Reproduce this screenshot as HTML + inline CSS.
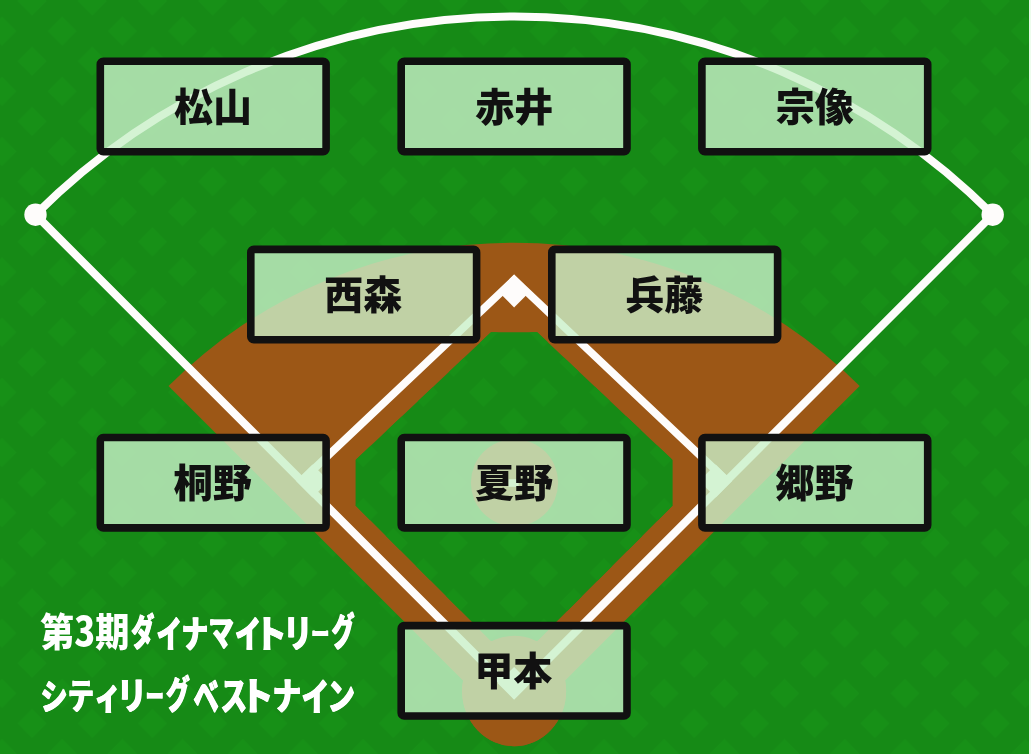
<!DOCTYPE html>
<html lang="ja"><head><meta charset="utf-8"><title>第3期ダイナマイトリーグ シティリーグベストナイン</title>
<style>
html,body{margin:0;padding:0;background:#168a16;}
body{width:1031px;height:754px;overflow:hidden;position:relative;font-family:"Liberation Sans","Noto Sans CJK JP",sans-serif;}
svg{position:absolute;left:0;top:0;display:block}
.txt{will-change:transform;position:absolute;left:0;top:0;width:1031px;height:754px;}
.nm{position:absolute;left:0;top:0;transform-origin:0 0;font-family:"Liberation Sans","Noto Sans CJK JP",sans-serif;font-weight:900;font-size:39px;line-height:39px;color:#111;white-space:nowrap;}
.cap{position:absolute;left:0;top:0;width:0;height:39px;color:#fff;font-family:"Liberation Sans","Noto Sans CJK JP",sans-serif;font-weight:900;font-size:39px;line-height:39px;white-space:nowrap;}
.cap span{display:inline-block;vertical-align:top;width:0;height:39px;font-family:"Noto Sans CJK JP",sans-serif;transform-origin:0 0;white-space:nowrap;}
.cap span.k{text-shadow:0.7px 0 0 currentColor,-0.7px 0 0 currentColor;}
</style></head><body>
<svg width="1031" height="754" viewBox="0 0 1031 754">
<defs>
<pattern id="dia" x="32.1" y="1" width="60.2" height="60.2" patternUnits="userSpaceOnUse">
<path d="M0 -14.5 L14.5 0 L0 14.5 L-14.5 0Z M60.2 -14.5 L74.7 0 L60.2 14.5 L45.7 0Z M0 45.7 L14.5 60.2 L0 74.7 L-14.5 60.2Z M60.2 45.7 L74.7 60.2 L60.2 74.7 L45.7 60.2Z M30.1 15.6 L44.6 30.1 L30.1 44.6 L15.6 30.1Z" fill="#179017"/>
</pattern>
<clipPath id="inf"><polygon points="491.0,332.3 537.2,332.3 672.6,460.0 672.6,505.6 537.2,641.0 491.0,641.0 355.6,505.6 355.6,460.0"/></clipPath>
</defs>
<rect width="1031" height="754" fill="#168a16"/>
<rect width="1031" height="754" fill="url(#dia)"/>
<path d="M514.1 731.5 L168.5 385.9 A488.7 488.7 0 0 1 859.7 385.9Z" fill="#9c5716"/>
<ellipse cx="514.1" cy="691" rx="52" ry="55.2" fill="#9c5716"/>
<polygon points="491.0,332.3 537.2,332.3 672.6,460.0 672.6,505.6 537.2,641.0 491.0,641.0 355.6,505.6 355.6,460.0" fill="#168a16"/>
<rect width="1031" height="754" fill="url(#dia)" clip-path="url(#inf)"/>
<ellipse cx="514.1" cy="691" rx="52" ry="55.2" fill="#9c5716"/>
<circle cx="514.5" cy="482.7" r="43.6" fill="#9c5716"/>
<rect x="508.6" y="479.2" width="10" height="7.6" fill="#fefcfb"/>
<g fill="none" stroke="#fefcfb" stroke-width="8">
<path d="M35.5 214.7 A676.8 676.8 0 0 1 992.7 214.7"/>
<path d="M35.5 214.7 L514.1 693.3 L992.7 214.7" stroke-linejoin="miter"/>
<path d="M301.5 480.6 L514.1 279.8 L726.7 480.6" stroke-linejoin="miter" stroke-width="7.7"/>
</g>
<g fill="#fefcfb">
<circle cx="35.5" cy="214.7" r="11.2"/>
<circle cx="992.7" cy="214.7" r="11.2"/>
<polygon points="514.1,274.6 530.5,291.0 514.1,307.4 497.7,291.0"/>
<polygon points="312.5,464.6 328.9,481.0 312.5,497.4 296.1,481.0"/>
<polygon points="715.7,464.6 732.1,481.0 715.7,497.4 699.3,481.0"/>
<polygon points="514.1,666.9 530.5,683.3 514.1,699.7 497.7,683.3"/>
</g>
<rect x="100.30" y="61.30" width="225.80" height="90.40" rx="3" fill="rgba(201,240,201,0.8)" stroke="#111" stroke-width="7.6"/>
<rect x="401.20" y="61.30" width="225.80" height="90.40" rx="3" fill="rgba(201,240,201,0.8)" stroke="#111" stroke-width="7.6"/>
<rect x="701.90" y="61.30" width="225.80" height="90.40" rx="3" fill="rgba(201,240,201,0.8)" stroke="#111" stroke-width="7.6"/>
<rect x="250.80" y="249.40" width="225.80" height="90.40" rx="3" fill="rgba(201,240,201,0.8)" stroke="#111" stroke-width="7.6"/>
<rect x="551.80" y="249.40" width="225.80" height="90.40" rx="3" fill="rgba(201,240,201,0.8)" stroke="#111" stroke-width="7.6"/>
<rect x="100.30" y="437.50" width="225.80" height="90.40" rx="3" fill="rgba(201,240,201,0.8)" stroke="#111" stroke-width="7.6"/>
<rect x="401.20" y="437.50" width="225.80" height="90.40" rx="3" fill="rgba(201,240,201,0.8)" stroke="#111" stroke-width="7.6"/>
<rect x="701.90" y="437.50" width="225.80" height="90.40" rx="3" fill="rgba(201,240,201,0.8)" stroke="#111" stroke-width="7.6"/>
<rect x="401.20" y="625.60" width="225.80" height="90.40" rx="3" fill="rgba(201,240,201,0.8)" stroke="#111" stroke-width="7.6"/>
<rect x="1029" y="0" width="2" height="754" fill="#ecfdec"/>
</svg>
<div class="txt">
<div class="nm" style="transform:translate(174.11px,88px)">松山</div>
<div class="nm" style="transform:translate(475.13px,88px)">赤井</div>
<div class="nm" style="transform:translate(775.65px,88px)">宗像</div>
<div class="nm" style="transform:translate(324.31px,276px)">西森</div>
<div class="nm" style="transform:translate(625.13px,276px)">兵藤</div>
<div class="nm" style="transform:translate(173.84px,464px)">桐野</div>
<div class="nm" style="transform:translate(475.06px,464px)">夏野</div>
<div class="nm" style="transform:translate(775.45px,464px)">郷野</div>
<div class="nm" style="transform:translate(474.36px,652px)">甲本</div>
<div class="cap" role="heading" aria-label="第3期ダイナマイトリーグ"><span style="transform:matrix(0.8716,0,0,0.9872,40.16,610.08)">第</span><span style="transform:matrix(0.8787,0,0,1.0271,74.20,608.80)">3</span><span style="transform:matrix(0.8761,0,0,0.9808,95.13,610.51)">期</span><span class="k" style="transform:matrix(0.5960,0,0,0.9579,131.13,611.48)">ダ</span><span class="k" style="transform:matrix(0.6598,0,0,0.9537,156.38,613.31)">イ</span><span class="k" style="transform:matrix(0.6870,0,0,0.9500,181.56,613.70)">ナ</span><span class="k" style="transform:matrix(0.6505,0,0,0.9193,208.58,612.69)">マ</span><span class="k" style="transform:matrix(0.6714,0,0,0.9537,235.03,613.31)">イ</span><span class="k" style="transform:matrix(0.8307,0,0,0.9887,254.53,611.96)">ト</span><span class="k" style="transform:matrix(0.7362,0,0,0.9918,283.55,611.00)">リ</span><span class="k" style="transform:matrix(0.4690,0,0,0.7098,311.15,618.25)">ー</span><span class="k" style="transform:matrix(0.5896,0,0,0.9711,331.49,610.01)">グ</span></div>
<div class="cap" role="heading" aria-label="シティリーグベストナイン"><span class="k" style="transform:matrix(0.6941,0,0,0.9176,40.41,676.82)">シ</span><span class="k" style="transform:matrix(0.6725,0,0,0.9008,67.81,676.53)">テ</span><span class="k" style="transform:matrix(0.6860,0,0,0.9658,94.26,673.98)">ィ</span><span class="k" style="transform:matrix(0.7628,0,0,0.9741,116.98,673.82)">リ</span><span class="k" style="transform:matrix(0.4731,0,0,0.7482,145.50,679.67)">ー</span><span class="k" style="transform:matrix(0.6145,0,0,0.9713,165.81,672.71)">グ</span><span class="k" style="transform:matrix(0.6547,0,0,1.0858,193.37,672.54)">ベ</span><span class="k" style="transform:matrix(0.6897,0,0,0.9851,220.38,674.21)">ス</span><span class="k" style="transform:matrix(0.8430,0,0,1.0005,240.58,673.77)">ト</span><span class="k" style="transform:matrix(0.7379,0,0,0.9471,272.49,675.51)">ナ</span><span class="k" style="transform:matrix(0.7150,0,0,0.9798,301.38,675.56)">イ</span><span class="k" style="transform:matrix(0.7034,0,0,0.9566,327.50,675.55)">ン</span></div>
</div>
</body></html>
